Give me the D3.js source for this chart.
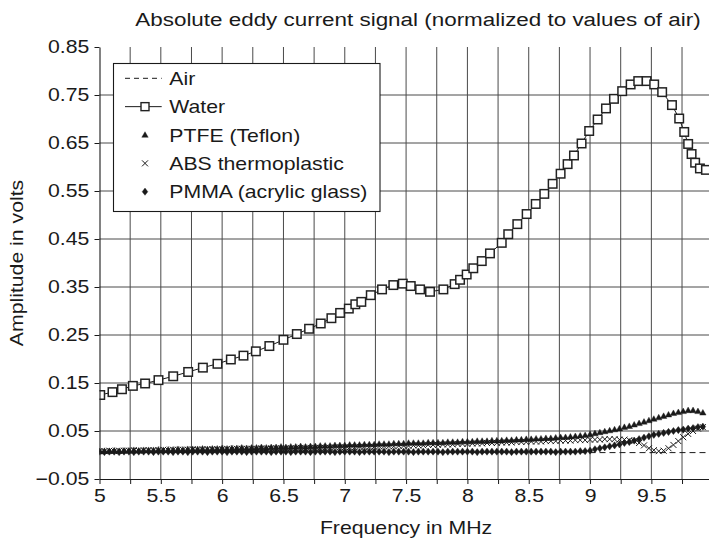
<!DOCTYPE html>
<html>
<head>
<meta charset="utf-8">
<script src="https://cdn.jsdelivr.net/npm/d3@7"></script>
<style>
body{margin:0;background:#fff;}
text{font-family:"Liberation Sans",Arial,Helvetica,sans-serif;fill:#1a1a1a;}
</style>
</head>
<body>
<svg width="709" height="544"></svg>
<script>
var title = 'Absolute eddy current signal (normalized to values of air)';
var xTitle = 'Frequency in MHz';
var yTitle = 'Amplitude in volts';
var xTicks = [5,5.25,5.5,5.75,6,6.25,6.5,6.75,7,7.25,7.5,7.75,8,8.25,8.5,8.75,9,9.25,9.5,9.75];
var xTickLabels = [5,5.5,6,6.5,7,7.5,8,8.5,9,9.5];
var yTicks = [-0.05,0.05,0.15,0.25,0.35,0.45,0.55,0.65,0.75,0.85];
var seriesNames = ['Air','Water','PTFE (Teflon)','ABS thermoplastic','PMMA (acrylic glass)'];

// air reference (dashed)
var airFreq = [5,6,7,8,9,9.95];
var airAmp = [0.005,0.005,0.005,0.005,0.005,0.005];

// water
var waterFreq = [5.006,5.106,5.183,5.272,5.372,5.481,5.601,5.723,5.843,5.962,
	6.071,6.174,6.275,6.385,6.500,6.609,6.709,6.804,6.891,6.962,
	7.033,7.086,7.135,7.212,7.304,7.396,7.473,7.538,7.614,7.695,
	7.804,7.896,7.940,7.994,8.048,8.117,8.184,8.280,8.333,8.407,
	8.483,8.557,8.627,8.695,8.760,8.817,8.869,8.931,8.993,9.062,
	9.130,9.195,9.262,9.331,9.393,9.461,9.523,9.588,9.668,9.727,
	9.768,9.800,9.828,9.857,9.896,9.945];
var waterAmp = [0.125,0.131,0.137,0.144,0.149,0.156,0.164,0.173,0.182,0.190,
	0.199,0.207,0.216,0.227,0.240,0.252,0.263,0.274,0.285,0.296,
	0.305,0.314,0.319,0.333,0.345,0.354,0.357,0.352,0.345,0.340,
	0.345,0.356,0.365,0.376,0.389,0.404,0.420,0.442,0.460,0.481,
	0.502,0.523,0.544,0.565,0.586,0.606,0.624,0.649,0.675,0.699,
	0.722,0.742,0.758,0.772,0.779,0.779,0.772,0.756,0.729,0.701,
	0.673,0.648,0.627,0.609,0.597,0.594];

// solid samples share one frequency sweep (5 MHz, 0.04 MHz steps)
var sweepFreq = d3.range(124).map(function(i){return 5 + i*0.04});
var ptfeAmp = [0.007,0.008,0.008,0.009,0.008,0.009,0.009,0.010,0.009,0.010,
	0.010,0.010,0.011,0.010,0.011,0.011,0.012,0.011,0.012,0.012,
	0.012,0.013,0.012,0.013,0.013,0.014,0.013,0.014,0.014,0.015,
	0.014,0.015,0.015,0.016,0.015,0.016,0.016,0.017,0.016,0.017,
	0.017,0.018,0.017,0.018,0.018,0.019,0.019,0.019,0.020,0.020,
	0.020,0.021,0.021,0.021,0.022,0.022,0.022,0.023,0.023,0.023,
	0.024,0.024,0.024,0.025,0.025,0.025,0.025,0.026,0.026,0.026,
	0.026,0.027,0.027,0.027,0.028,0.028,0.028,0.029,0.029,0.029,
	0.030,0.030,0.030,0.031,0.031,0.032,0.032,0.033,0.033,0.034,
	0.034,0.035,0.035,0.036,0.037,0.037,0.038,0.039,0.040,0.041,
	0.043,0.045,0.047,0.049,0.051,0.053,0.055,0.058,0.060,0.063,
	0.066,0.069,0.072,0.075,0.078,0.081,0.084,0.087,0.089,0.091,
	0.093,0.093,0.091,0.088];
var absAmp = [0.008,0.008,0.009,0.008,0.009,0.009,0.009,0.010,0.009,0.010,
	0.010,0.010,0.010,0.011,0.010,0.011,0.011,0.011,0.011,0.012,
	0.011,0.012,0.012,0.012,0.012,0.012,0.013,0.012,0.013,0.013,
	0.013,0.013,0.013,0.014,0.013,0.014,0.014,0.014,0.014,0.014,
	0.014,0.015,0.014,0.015,0.015,0.015,0.015,0.015,0.016,0.016,
	0.016,0.016,0.016,0.017,0.017,0.017,0.017,0.018,0.018,0.018,
	0.018,0.019,0.019,0.019,0.020,0.020,0.020,0.021,0.021,0.021,
	0.022,0.022,0.022,0.023,0.023,0.023,0.024,0.024,0.024,0.025,
	0.025,0.025,0.026,0.026,0.026,0.027,0.027,0.027,0.028,0.028,
	0.028,0.029,0.029,0.029,0.030,0.030,0.030,0.031,0.031,0.031,
	0.032,0.032,0.032,0.033,0.033,0.033,0.032,0.032,0.031,0.029,
	0.025,0.020,0.014,0.010,0.008,0.009,0.014,0.021,0.029,0.037,
	0.044,0.050,0.055,0.058];
var pmmaAmp = [0.007,0.006,0.007,0.007,0.006,0.007,0.007,0.006,0.007,0.007,
	0.007,0.006,0.007,0.007,0.007,0.006,0.007,0.007,0.006,0.007,
	0.007,0.007,0.006,0.007,0.007,0.007,0.006,0.007,0.007,0.007,
	0.006,0.007,0.007,0.007,0.007,0.006,0.007,0.007,0.007,0.006,
	0.007,0.007,0.007,0.006,0.007,0.007,0.007,0.007,0.006,0.007,
	0.007,0.007,0.007,0.006,0.007,0.007,0.007,0.007,0.007,0.006,
	0.007,0.007,0.007,0.007,0.006,0.007,0.007,0.007,0.007,0.007,
	0.006,0.007,0.007,0.007,0.007,0.007,0.007,0.006,0.007,0.007,
	0.007,0.007,0.007,0.007,0.006,0.007,0.007,0.007,0.007,0.007,
	0.007,0.007,0.007,0.006,0.007,0.007,0.007,0.007,0.008,0.008,
	0.009,0.012,0.014,0.016,0.018,0.020,0.022,0.025,0.027,0.030,
	0.033,0.036,0.039,0.042,0.044,0.046,0.048,0.050,0.052,0.053,
	0.055,0.056,0.058,0.059];

var SX = 1.18;   // reference lettering is wider than Liberation Sans
var ink = '#1a1a1a';
var shapes = {
	tri: 'M0,-3.3L3.2,2.3L-3.2,2.3Z',
	times: 'M-3,-3L3,3M-3,3L3,-3',
	diamond: 'M0,-3.6L2.8,0L0,3.6L-2.8,0Z'
};

var svg = d3.select('svg');
var x = d3.scaleLinear().domain([5, 9.97]).range([99.5, 709]);
var y = d3.scaleLinear().domain([-0.05, 0.85]).range([479, 47]);

svg.append('defs').append('clipPath').attr('id', 'plot')
	.append('rect').attr('x', x(5)).attr('y', y(0.85) - 6)
	.attr('width', 709 - x(5)).attr('height', y(-0.05) - y(0.85) + 6);

// grid
var grid = svg.append('g').attr('stroke', '#4a4a4a').attr('stroke-width', 1);
grid.selectAll('.vg').data(xTicks.slice(1)).enter().append('line')
	.attr('x1', function(d){return x(d)}).attr('x2', function(d){return x(d)})
	.attr('y1', y(0.85)).attr('y2', y(-0.05));
grid.selectAll('.hg').data(yTicks.slice(1, -1)).enter().append('line')
	.attr('x1', x(5)).attr('x2', 709)
	.attr('y1', function(d){return y(d)}).attr('y2', function(d){return y(d)});

var plot = svg.append('g').attr('clip-path', 'url(#plot)');

function pts(fs, vs){
	return fs.map(function(f, i){return {f: f, v: vs[i]}});
}
var line = d3.line().x(function(d){return x(d.f)}).y(function(d){return y(d.v)});

// air
plot.append('path').datum(pts(airFreq, airAmp)).attr('d', line)
	.attr('fill', 'none').attr('stroke', ink).attr('stroke-width', 1)
	.attr('stroke-dasharray', '6,4');

function markers(data, shape, cls){
	plot.selectAll('.' + cls).data(data).enter().append('path')
		.attr('class', cls)
		.attr('d', shapes[shape])
		.attr('transform', function(d){return 'translate(' + x(d.f) + ',' + y(d.v) + ')'})
		.attr('fill', shape == 'times' ? 'none' : ink)
		.attr('stroke', ink)
		.attr('stroke-width', shape == 'times' ? 1 : 0.4);
}
markers(pts(sweepFreq, pmmaAmp), 'diamond', 'pmma');
markers(pts(sweepFreq, absAmp), 'times', 'abs');
markers(pts(sweepFreq, ptfeAmp), 'tri', 'ptfe');

// water
var water = pts(waterFreq, waterAmp);
plot.append('path').datum(water).attr('d', line)
	.attr('fill', 'none').attr('stroke', ink).attr('stroke-width', 1);
plot.selectAll('.water').data(water).enter().append('rect')
	.attr('class', 'water')
	.attr('x', function(d){return x(d.f) - 4.25}).attr('y', function(d){return y(d.v) - 4.25})
	.attr('width', 8.5).attr('height', 8.5)
	.attr('fill', '#fff').attr('stroke', '#222').attr('stroke-width', 1.5);

// axes
var xAxis = svg.append('g').attr('transform', 'translate(0,' + y(-0.05) + ')')
	.call(d3.axisBottom(x).tickValues(xTicks).tickSize(5).tickPadding(5).tickSizeOuter(0)
		.tickFormat(function(d){return xTickLabels.indexOf(d) >= 0 ? d3.format('')(d) : ''}));
var yAxis = svg.append('g').attr('transform', 'translate(' + x(5) + ',0)')
	.call(d3.axisLeft(y).tickValues(yTicks).tickSize(5).tickSizeOuter(0)
		.tickFormat(function(d){return d3.format('.2f')(d).replace('-', '\u2013')}));
[xAxis, yAxis].forEach(function(a){
	a.select('.domain').attr('stroke', ink).attr('stroke-width', 1.1);
	a.selectAll('.tick line').attr('stroke', ink).attr('stroke-width', 1);
	a.selectAll('.tick text').attr('font-size', 18).attr('fill', ink)
		.attr('font-family', '"Liberation Sans",Arial,sans-serif');
});
xAxis.selectAll('.tick text').attr('transform', 'scale(' + SX + ',1)');
yAxis.selectAll('.tick text').attr('x', -10.2 / SX).attr('transform', 'scale(' + SX + ',1)');

// titles
function label(str, tx, ty, size, rot){
	svg.append('text').text(str)
		.attr('font-size', size).attr('text-anchor', 'middle')
		.attr('transform', 'translate(' + tx + ',' + ty + ')' + (rot ? ' rotate(' + rot + ')' : '') + ' scale(' + SX + ',1)');
}
label(title, 418, 26, 19);
label(xTitle, 406, 534, 18);
label(yTitle, 23, 263, 18, -90);

// legend
var lg = svg.append('g');
lg.append('rect').attr('x', 113.5).attr('y', 63.5).attr('width', 266.5).attr('height', 148)
	.attr('fill', '#fff').attr('stroke', ink).attr('stroke-width', 1.1);
var rowY = d3.scalePoint().domain(seriesNames).range([78.3, 191.7]);
var kinds = ['dash', 'water', 'tri', 'times', 'diamond'];
seriesNames.forEach(function(name, i){
	var cy = rowY(name), k = kinds[i];
	if(k == 'dash' || k == 'water'){
		lg.append('line').attr('x1', 125).attr('x2', 161.7).attr('y1', cy).attr('y2', cy)
			.attr('stroke', ink).attr('stroke-width', 1)
			.attr('stroke-dasharray', k == 'dash' ? '5,4' : null);
	}
	if(k == 'water'){
		lg.append('rect').attr('x', 141).attr('y', cy - 4).attr('width', 8).attr('height', 8)
			.attr('fill', '#fff').attr('stroke', '#222').attr('stroke-width', 1.4);
	} else if(k != 'dash'){
		lg.append('path').attr('d', shapes[k])
			.attr('transform', 'translate(145,' + cy + ')')
			.attr('fill', k == 'times' ? 'none' : ink).attr('stroke', ink)
			.attr('stroke-width', k == 'times' ? 1 : 0.4);
	}
	lg.append('text').text(name).attr('font-size', 18)
		.attr('transform', 'translate(169.3,' + (cy + 6.5) + ') scale(' + SX + ',1)');
});
</script>
</body>
</html>
